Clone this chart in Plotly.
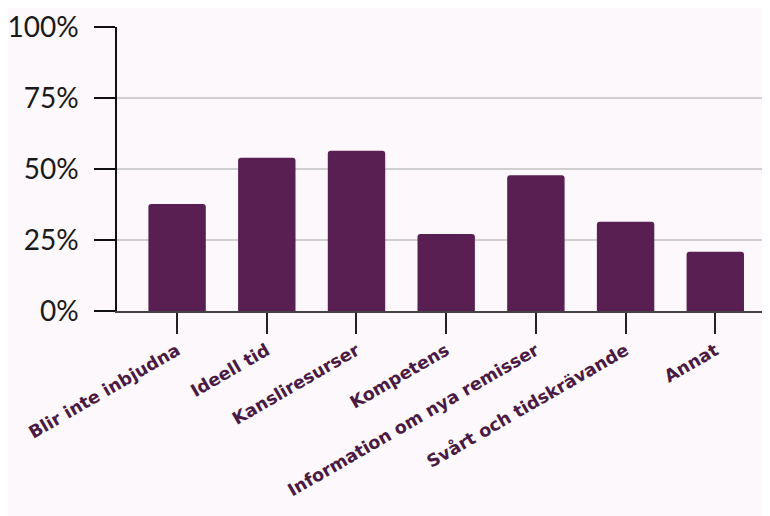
import plotly.graph_objects as go

categories = ["Blir inte inbjudna", "Ideell tid", "Kansliresurser", "Kompetens",
              "Information om nya remisser", "Svårt och tidskrävande", "Annat"]
values = [37.7, 54.0, 56.4, 27.1, 47.8, 31.4, 20.9]
y_ticks = [0, 25, 50, 75, 100]
y_tick_labels = ["0%", "25%", "50%", "75%", "100%"]

bg = "#fcf8fb"
bar_color = "#5a1f52"
label_color = "#4a1a43"

fig = go.Figure(go.Bar(
    x=categories, y=values,
    marker=dict(color=bar_color, cornerradius=3, line=dict(width=0)),
    width=0.64,
))

fig.update_layout(
    width=762, height=508,
    margin=dict(l=109, r=0, t=19, b=205),
    paper_bgcolor=bg, plot_bgcolor=bg,
    showlegend=False,
    font=dict(family="Lato, sans-serif"),
)
fig.update_xaxes(
    range=[-0.67, 6.61],
    automargin=False,
    showline=True, linecolor="#444444", linewidth=1.5,
    ticks="outside", ticklen=21, tickwidth=1.5, tickcolor="#222222",
    tickangle=-30,
    tickfont=dict(family="DejaVu Sans, sans-serif", size=17.5, color=label_color, weight="bold"),
    showgrid=False,
)
fig.update_yaxes(
    range=[0, 100],
    automargin=False,
    tickvals=y_ticks, ticktext=y_tick_labels,
    showline=True, linecolor="#111111", linewidth=1.5,
    ticks="outside", ticklen=21, tickwidth=1.5, tickcolor="#111111",
    ticklabelstandoff=10, ticklabeloverflow="allow",
    tickfont=dict(family="Lato, sans-serif", size=28, color="#1a1a1a"),
    showgrid=True, gridcolor="#cfcfcf", gridwidth=1.5,
    zeroline=False,
)

fig.write_html("out.html")
